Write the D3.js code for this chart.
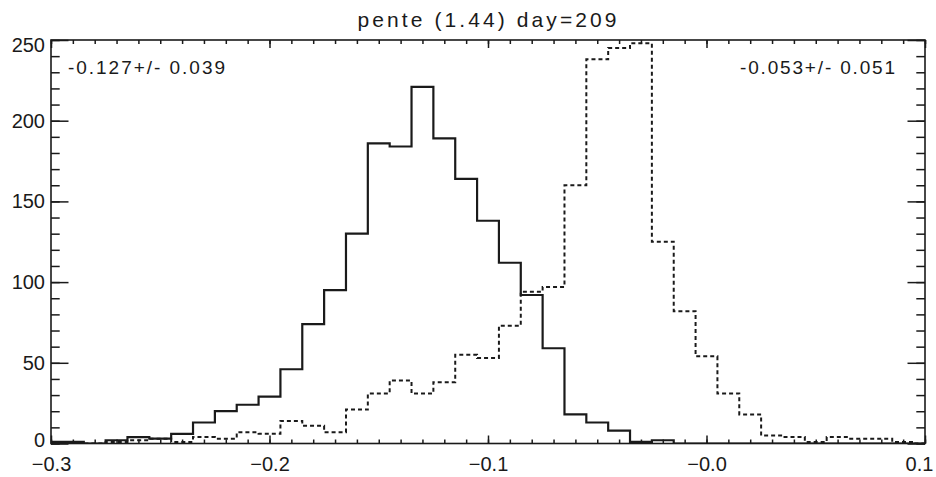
<!DOCTYPE html>
<html>
<head>
<meta charset="utf-8">
<script src="https://cdn.jsdelivr.net/npm/d3@7"></script>
<style>
  html, body { margin: 0; padding: 0; background: #fff; }
  svg text { font-family: "Liberation Sans", Arial, Helvetica, sans-serif; fill: #1a1a1a; }
</style>
</head>
<body>
<svg id="chart" width="936" height="477"></svg>
<script>
// ---- data ----
const title = "pente (1.44) day=209";
const binCenters = [-0.30,-0.29,-0.28,-0.27,-0.26,-0.25,-0.24,-0.23,-0.22,-0.21,
  -0.20,-0.19,-0.18,-0.17,-0.16,-0.15,-0.14,-0.13,-0.12,-0.11,
  -0.10,-0.09,-0.08,-0.07,-0.06,-0.05,-0.04,-0.03,-0.02,-0.01,
  0.00,0.01,0.02,0.03,0.04,0.05,0.06,0.07,0.08,0.09,0.10];
const solidCounts = [1,1,0,2,4,3,6,13,20,24,
  29,46,74,95,130,186,184,221,189,164,
  138,112,92,59,18,13,8,1,2,0,
  0,0,0,0,0,0,0,0,0,0,0];
const dashedCounts = [1,1,0,1,2,3,1,4,3,7,
  6,14,11,7,21,31,39,31,38,55,
  53,73,94,97,160,238,245,248,125,82,
  54,31,18,5,4,1,4,3,3,1,0];
const binWidth = 0.01;
const xMajorTicks = [-0.3,-0.2,-0.1,0.0,0.1];
const xTickLabels = ["\u22120.3","\u22120.2","\u22120.1","\u22120.0","0.1"];
const yMajorTicks = [0,50,100,150,200,250];
const yTickLabels = ["0","50","100","150","200","250"];
const annotations = ["-0.127+/- 0.039", "-0.053+/- 0.051"];

// ---- layout ----
const svg = d3.select("#chart");
const L = 51, R = 925, T = 40, B = 443.5;
const x = d3.scaleLinear().domain([-0.3, 0.1]).range([L, R]);
const y = d3.scaleLinear().domain([0, 250]).range([B, T]);
const ink = "#1a1a1a";

svg.append("defs").append("clipPath").attr("id","plotclip")
  .append("rect").attr("x", L).attr("y", T - 2).attr("width", R - L).attr("height", B - T + 2);

// histogram step paths
function stepPoints(counts) {
  const pts = binCenters.map((c, i) => [Math.max(c - binWidth/2, -0.3), counts[i]]);
  const lastC = binCenters[binCenters.length - 1];
  pts.push([Math.min(lastC + binWidth/2, 0.1), counts[counts.length - 1]]);
  return pts;
}
const line = d3.line().x(d => x(d[0])).y(d => y(d[1])).curve(d3.curveStepAfter);

const g = svg.append("g").attr("clip-path", "url(#plotclip)");
g.append("path").datum(stepPoints(dashedCounts))
  .attr("d", line).attr("fill", "none").attr("stroke", ink)
  .attr("stroke-width", 2).attr("stroke-dasharray", "4,3");
g.append("path").datum(stepPoints(solidCounts))
  .attr("d", line).attr("fill", "none").attr("stroke", ink)
  .attr("stroke-width", 2.2);

// axes (ticks pointing inward)
const xMinor = d3.range(-30, 11).map(v => v / 100);
const yMinor = d3.range(0, 26).map(v => v * 10);
function styleAxis(sel) {
  sel.selectAll(".domain").remove();
  sel.selectAll("line").attr("stroke", ink).attr("stroke-width", 1.5);
}
svg.append("g").attr("transform", `translate(0,${B})`)
  .call(d3.axisBottom(x).tickValues(xMinor).tickSize(-4).tickFormat(""))
  .call(styleAxis);
svg.append("g").attr("transform", `translate(0,${T})`)
  .call(d3.axisTop(x).tickValues(xMinor).tickSize(-4).tickFormat(""))
  .call(styleAxis);
svg.append("g").attr("transform", `translate(0,${T})`)
  .call(d3.axisTop(x).tickValues(xMajorTicks).tickSize(-8).tickFormat(""))
  .call(styleAxis);
const xb = svg.append("g").attr("transform", `translate(0,${B})`)
  .call(d3.axisBottom(x).tickValues(xMajorTicks).tickSize(-8).tickPadding(13)
    .tickFormat((d, i) => xTickLabels[i]))
  .call(styleAxis);
xb.selectAll("text").attr("font-size", 20).attr("fill", ink)
  .attr("dx", (d, i) => i === xMajorTicks.length - 1 ? -6 : 0);

svg.append("g").attr("transform", `translate(${L},0)`)
  .call(d3.axisLeft(y).tickValues(yMinor).tickSize(-8.7).tickFormat(""))
  .call(styleAxis);
svg.append("g").attr("transform", `translate(${R},0)`)
  .call(d3.axisRight(y).tickValues(yMinor).tickSize(-8.7).tickFormat(""))
  .call(styleAxis);
svg.append("g").attr("transform", `translate(${R},0)`)
  .call(d3.axisRight(y).tickValues(yMajorTicks).tickSize(-17.5).tickFormat(""))
  .call(styleAxis);
const yl = svg.append("g").attr("transform", `translate(${L},0)`)
  .call(d3.axisLeft(y).tickValues(yMajorTicks).tickSize(-17.5).tickPadding(6)
    .tickFormat((d, i) => yTickLabels[i]))
  .call(styleAxis);
yl.selectAll("text").attr("font-size", 20).attr("fill", ink)
  .attr("y", d => d === 250 ? 5 : (d === 0 ? -3 : 0));

// frame
svg.append("rect").attr("x", L).attr("y", T).attr("width", R - L).attr("height", B - T)
  .attr("fill", "none").attr("stroke", ink).attr("stroke-width", 1.6);

// title
svg.append("text").attr("x", 487).attr("y", 27).attr("text-anchor", "middle")
  .attr("font-size", 21).attr("textLength", 259).attr("lengthAdjust", "spacing")
  .text(title);

// annotations
svg.append("text").attr("x", 68).attr("y", y(233) + 7).attr("font-size", 19)
  .attr("textLength", 157).attr("lengthAdjust", "spacing").text(annotations[0]);
svg.append("text").attr("x", 740).attr("y", y(233) + 7).attr("font-size", 19)
  .attr("textLength", 155).attr("lengthAdjust", "spacing").text(annotations[1]);
</script>
</body>
</html>
